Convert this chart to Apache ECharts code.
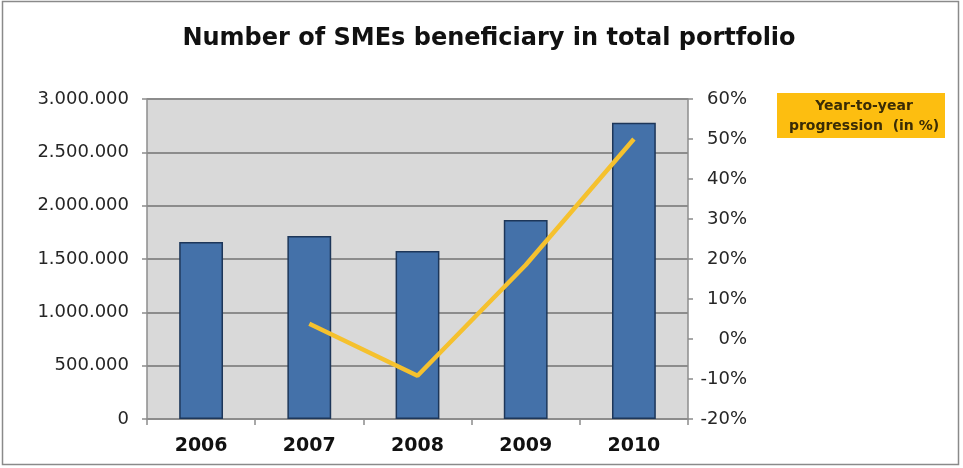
<!DOCTYPE html>
<html>
<head>
<meta charset="utf-8">
<script src="https://cdn.jsdelivr.net/npm/echarts@6/dist/echarts.min.js"></script>
<style>
  html, body { margin: 0; padding: 0; background: #ffffff; }
  #chart { width: 963px; height: 468px; }
</style>
</head>
<body>
<div id="chart"></div>
<script>
// Years on the category axis
const years = ['2006', '2007', '2008', '2009', '2010'];
// Number of SMEs beneficiary in the total portfolio
const smeCount = [1659000, 1716000, 1575000, 1866000, 2778000];
// Year-to-year progression, in percent (no value for the first year)
const progression = [null, 3.8, -9.2, 18.5, 50.0];
// Tick setup for both value axes
const countTicks = { min: 0, max: 3000000, step: 500000 };
const pctTicks = { min: -20, max: 60, step: 10 };

const lineName = 'Year-to-year progression  (in %)';

function dotThousands(v) {
  return String(Math.round(v)).replace(/\B(?=(\d{3})+(?!\d))/g, '.');
}

const chart = echarts.init(document.getElementById('chart'), null, { renderer: 'canvas' });

const axisGray = '#8c8c8c';
const labelFont = { fontFamily: 'DejaVu Sans', fontSize: 18, color: '#262626' };

chart.setOption({
  animation: false,
  backgroundColor: '#ffffff',
  title: {
    text: 'Number of SMEs beneficiary in total portfolio',
    left: 484,
    textAlign: 'center',
    top: 22,
    textStyle: {
      fontFamily: 'DejaVu Sans',
      fontWeight: 'bold',
      fontSize: 24,
      color: '#111111'
    }
  },
  legend: {
    data: [lineName],
    left: 777,
    top: 93,
    orient: 'vertical',
    backgroundColor: '#FDBE10',
    padding: [6, 5, 5, 5],
    itemWidth: 0,
    itemHeight: 0,
    itemGap: 0,
    selectedMode: false,
    formatter: function () {
      return '{c|Year-to-year}\n{c|progression  (in %)}';
    },
    textStyle: {
      rich: {
        c: {
          width: 152,
          align: 'center',
          fontFamily: 'DejaVu Sans',
          fontWeight: 'bold',
          fontSize: 14,
          lineHeight: 20,
          color: '#3a2c05'
        }
      }
    }
  },
  grid: {
    left: 147,
    right: 275,
    top: 99,
    bottom: 49,
    show: true,
    backgroundColor: '#D9D9D9',
    borderWidth: 0,
    containLabel: false
  },
  xAxis: {
    type: 'category',
    data: years,
    boundaryGap: true,
    axisLine: { lineStyle: { color: axisGray, width: 1.5 } },
    axisTick: { show: true, interval: 0, alignWithLabel: false, length: 6, lineStyle: { color: axisGray, width: 1.5 } },
    axisLabel: {
      margin: 18,
      fontFamily: 'DejaVu Sans',
      fontWeight: 'bold',
      fontSize: 19,
      color: '#111111'
    }
  },
  yAxis: [
    {
      type: 'value',
      position: 'left',
      min: countTicks.min,
      max: countTicks.max,
      interval: countTicks.step,
      axisLine: { show: true, lineStyle: { color: axisGray, width: 1.5 } },
      axisTick: { show: true, length: 5, lineStyle: { color: axisGray, width: 1.5 } },
      splitLine: { show: true, lineStyle: { color: axisGray, width: 1.8 } },
      axisLabel: Object.assign({ margin: 18, formatter: dotThousands }, labelFont)
    },
    {
      type: 'value',
      position: 'right',
      min: pctTicks.min,
      max: pctTicks.max,
      interval: pctTicks.step,
      axisLine: { show: true, lineStyle: { color: axisGray, width: 1.5 } },
      axisTick: { show: true, length: 5, lineStyle: { color: axisGray, width: 1.5 } },
      splitLine: { show: false },
      axisLabel: Object.assign({ margin: 59, align: 'right', formatter: '{value}%' }, labelFont)
    }
  ],
  series: [
    {
      name: 'SMEs beneficiary',
      type: 'bar',
      yAxisIndex: 0,
      data: smeCount,
      barWidth: '40.5%',
      itemStyle: {
        color: '#4471A9',
        borderColor: '#1D3659',
        borderWidth: 1.5
      },
      z: 2
    },
    {
      name: lineName,
      type: 'line',
      yAxisIndex: 1,
      data: progression,
      symbol: 'none',
      connectNulls: false,
      lineStyle: { color: '#F5C12E', width: 4.5 },
      itemStyle: { color: '#F5C12E' },
      z: 3
    }
  ],
  graphic: [
    {
      type: 'rect',
      shape: { x: 2.5, y: 1.5, width: 956, height: 463 },
      style: { fill: 'none', stroke: '#8a8a8a', lineWidth: 1.5 },
      silent: true,
      z: 10
    }
  ]
});
</script>
</body>
</html>
